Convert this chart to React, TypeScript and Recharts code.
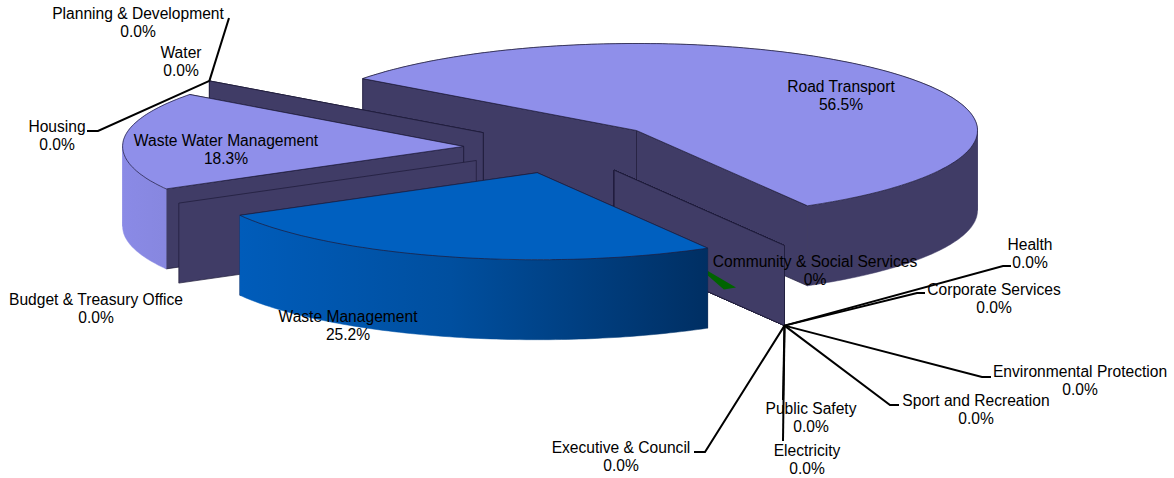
import { PieChart, Pie } from "recharts";

// slices in counter-clockwise order from the Road Transport / Community seam
const categories = [
  "Road Transport",
  "Housing",
  "Planning & Development",
  "Water",
  "Waste Water Management",
  "Budget & Treasury Office",
  "Waste Management",
  "Health",
  "Corporate Services",
  "Environmental Protection",
  "Sport and Recreation",
  "Public Safety",
  "Electricity",
  "Executive & Council",
  "Community & Social Services",
];
const values = [56.5, 0, 0, 0, 18.3, 0, 25.2, 0, 0, 0, 0, 0, 0, 0, 0.04];
const percentLabels = [
  "56.5%", "0.0%", "0.0%", "0.0%", "18.3%", "0.0%", "25.2%", "0.0%",
  "0.0%", "0.0%", "0.0%", "0.0%", "0.0%", "0.0%", "0%",
];

const data = categories.map((name, i) => ({ name, value: values[i], pct: percentLabels[i] }));

const SQUASH = 87 / 341;
const DEPTH = 80;
const EXPLODE = 0.295;
const ROAD_EXPLODE = 0.285;
const WALL = "#403c66";
const EDGE = "#1c1a38";
const FONT = "'Liberation Sans', Arial, sans-serif";

const TOP_COLORS: Record<string, string> = {
  "Road Transport": "#8f8fea",
  "Waste Water Management": "#8f8fea",
  "Waste Management": "#0060c0",
};

// text centre, then the bend and end of the leader line (if it has one)
type Place = { x: number; y: number; line?: number[][]; low?: boolean };
const PLACES: Record<string, Place> = {
  "Road Transport": { x: 841, y: 92 },
  "Waste Water Management": { x: 226, y: 146 },
  "Waste Management": { x: 348, y: 322 },
  "Community & Social Services": { x: 815, y: 267 },
  "Budget & Treasury Office": { x: 96, y: 305 },
  Water: { x: 181, y: 58 },
  "Planning & Development": { x: 138, y: 19, line: [[229, 18]] },
  Housing: { x: 57, y: 132, line: [[98, 131], [87, 131]] },
  Health: { x: 1030, y: 250, low: true, line: [[1003, 266], [1011, 266]] },
  "Corporate Services": { x: 994, y: 295, low: true, line: [[917, 293], [925, 293]] },
  "Environmental Protection": { x: 1080, y: 377, low: true, line: [[982, 377], [991, 377]] },
  "Sport and Recreation": { x: 976, y: 406, low: true, line: [[890, 405], [899, 405]] },
  "Public Safety": { x: 811, y: 414, low: true, line: [[783, 400]] },
  Electricity: { x: 807, y: 456, low: true, line: [[783, 441]] },
  "Executive & Council": { x: 621, y: 453, low: true, line: [[705, 452], [694, 452]] },
};

const rad = (d: number) => (d * Math.PI) / 180;

function projector(p: any, explode: number, lift = 0) {
  const { cx, cy, outerRadius: r, startAngle, endAngle } = p;
  const mid = rad((startAngle + endAngle) / 2);
  return (deg: number, frac = 1, drop = 0) => [
    cx + r * explode * Math.cos(mid) + r * frac * Math.cos(rad(deg)),
    cy - lift - (r * explode * Math.sin(mid) + r * frac * Math.sin(rad(deg))) * SQUASH + drop,
  ];
}

const toPath = (pts: number[][]) =>
  "M" + pts.map((q) => `${q[0].toFixed(1)},${q[1].toFixed(1)}`).join("L") + "Z";

function Wedge(p: any) {
  const { startAngle, endAngle, name } = p;
  const isRoad = name === "Road Transport";
  const at = projector(p, isRoad ? ROAD_EXPLODE : EXPLODE, isRoad ? 1 : 0);
  const apex = at(0, 0);
  const down = (q: number[]) => [q[0], q[1] + DEPTH];

  const wall = (deg: number) => {
    const rim = at(deg);
    return (
      <path d={toPath([apex, rim, down(rim), down(apex)])} fill={WALL} stroke={EDGE} strokeWidth={0.7} />
    );
  };

  if (name === "Community & Social Services") {
    // the tiny slice only shows as a sliver poking out beside Waste Management
    const sliver = projector(p, 0);
    return (
      <path
        d={toPath([sliver(startAngle, 0.75, 57), sliver(startAngle - 1.2, 0.975, 67), sliver(startAngle + 1.2, 0.975, 67)])}
        fill="#006400"
      />
    );
  }
  if (Math.abs(endAngle - startAngle) < 0.01) return <g>{wall(startAngle)}</g>;

  const sweep = (from: number, to: number) => {
    const pts: number[][] = [];
    const steps = Math.max(2, Math.ceil(Math.abs(to - from)));
    for (let i = 0; i <= steps; i++) pts.push(at(from + ((to - from) * i) / steps));
    return pts;
  };
  const arc = sweep(startAngle, endAngle);

  // the side is split where the ellipse turns back, so each piece is a clean band
  const breaks = [startAngle];
  [0, 180, 360].forEach((a) => {
    if (a > startAngle && a < endAngle) breaks.push(a);
  });
  breaks.push(endAngle);

  const xs = arc.map((q) => q[0]);
  const gradId = "rim-" + p.index;
  const rimFill = isRoad ? WALL : `url(#${gradId})`;
  const stops =
    name === "Waste Management"
      ? [["0", "#005cba"], ["0.45", "#004f9f"], ["1", "#002f63"]]
      : [["0", "#8a8ae6"], ["1", "#8585dc"]];

  const bands = breaks.slice(1).map((b, i) => {
    const band = sweep(breaks[i], b);
    const middle = (breaks[i] + b) / 2;
    return {
      back: middle > 0 && middle < 180,
      el: (
        <path
          key={i}
          d={toPath([...band, ...band.slice().reverse().map(down)])}
          fill={rimFill}
          stroke={rimFill}
          strokeWidth={0.5}
        />
      ),
    };
  });

  return (
    <g>
      <defs>
        <linearGradient
          id={gradId}
          gradientUnits="userSpaceOnUse"
          x1={Math.min(...xs)}
          x2={Math.max(...xs)}
          y1="0"
          y2="0"
        >
          {stops.map(([o, c]) => (
            <stop key={o} offset={o} stopColor={c} />
          ))}
        </linearGradient>
      </defs>
      {bands.filter((b) => b.back).map((b) => b.el)}
      {wall(startAngle)}
      {wall(endAngle)}
      {bands.filter((b) => !b.back).map((b) => b.el)}
      <path d={toPath([apex, ...arc])} fill={TOP_COLORS[name]} stroke={EDGE} strokeWidth={0.7} />
    </g>
  );
}

const backShape = (p: any) => (p.name === "Waste Management" ? <g /> : <Wedge {...p} />);
const frontShape = (p: any) => (p.name === "Waste Management" ? <Wedge {...p} /> : <g />);

function LabelShape(p: any) {
  const place = PLACES[p.name];
  if (!place) return <g />;
  const at = projector(p, EXPLODE);
  const start = at(p.startAngle, 1, place.low ? DEPTH : 0);
  const pts = place.line ? [start, ...place.line] : null;
  return (
    <g>
      {pts && (
        <polyline
          points={pts.map((q) => q.join(",")).join(" ")}
          fill="none"
          stroke="#000"
          strokeWidth={2}
        />
      )}
      <text x={place.x} y={place.y} textAnchor="middle" fontFamily={FONT} fontSize={15.6} fill="#000">
        {p.name}
      </text>
      <text x={place.x} y={place.y + 18.4} textAnchor="middle" fontFamily={FONT} fontSize={15.6} fill="#000">
        {p.pct}
      </text>
    </g>
  );
}

const pieProps = {
  data,
  dataKey: "value",
  nameKey: "name",
  cx: 564,
  cy: 148,
  innerRadius: 0,
  outerRadius: 341,
  startAngle: -59.9,
  endAngle: 300.1,
  stroke: "none",
  isAnimationActive: false,
};

export default function App() {
  return (
    <div style={{ position: "absolute", left: 0, top: 0, background: "#fff" }}>
      <PieChart width={1174} height={478} margin={{ top: 0, right: 0, bottom: 0, left: 0 }}>
        <Pie {...pieProps} shape={backShape} />
        <Pie {...pieProps} shape={frontShape} />
        <Pie {...pieProps} shape={(p: any) => <LabelShape {...p} />} />
      </PieChart>
    </div>
  );
}
